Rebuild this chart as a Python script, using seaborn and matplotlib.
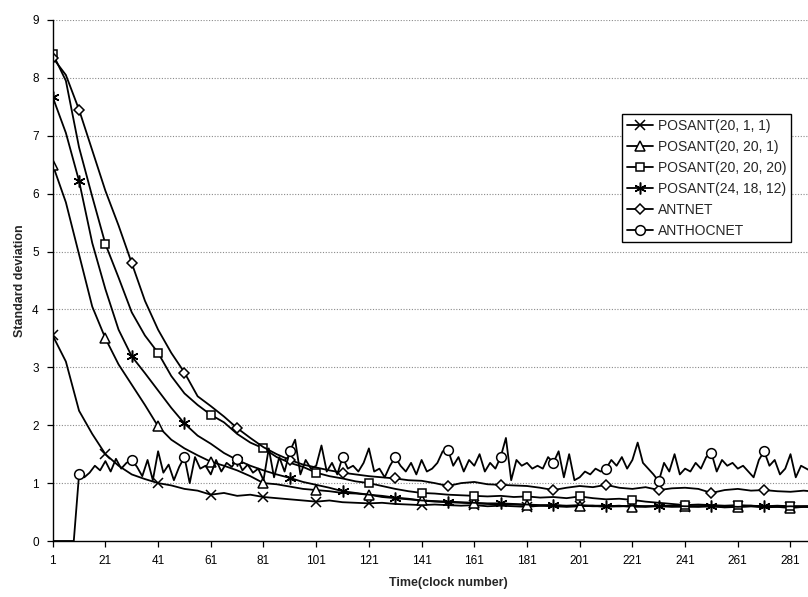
import numpy as np
import pandas as pd
import matplotlib
matplotlib.use("Agg")
import matplotlib.pyplot as plt
from matplotlib.lines import Line2D
import seaborn as sns

# ---------------- data ----------------
# smooth series sampled every 5 clocks starting at clock 1
step_smooth = 5
posant_20_1_1 = [3.55, 3.10, 2.25, 1.85, 1.50, 1.30, 1.15, 1.07, 1.00, 0.96,
                 0.90, 0.87, 0.80, 0.83, 0.78, 0.80, 0.76, 0.74, 0.72, 0.70,
                 0.68, 0.70, 0.67, 0.66, 0.65, 0.66, 0.64, 0.63, 0.62, 0.63,
                 0.62, 0.61, 0.62, 0.60, 0.61, 0.60, 0.59, 0.61, 0.60, 0.59,
                 0.60, 0.61, 0.59, 0.60, 0.60, 0.59, 0.61, 0.60, 0.59, 0.60,
                 0.60, 0.59, 0.60, 0.61, 0.59, 0.60, 0.59, 0.60, 0.60, 0.59]
posant_20_20_1 = [6.50, 5.85, 4.95, 4.05, 3.50, 3.05, 2.70, 2.35, 1.98, 1.75,
                  1.60, 1.48, 1.37, 1.30, 1.22, 1.12, 1.00, 0.98, 0.94, 0.90,
                  0.88, 0.86, 0.83, 0.82, 0.80, 0.76, 0.74, 0.72, 0.70, 0.68,
                  0.67, 0.66, 0.65, 0.64, 0.63, 0.63, 0.62, 0.61, 0.62, 0.60,
                  0.61, 0.60, 0.60, 0.61, 0.59, 0.60, 0.60, 0.59, 0.60, 0.59,
                  0.60, 0.58, 0.59, 0.60, 0.58, 0.59, 0.57, 0.59, 0.58, 0.58]
posant_20_20_20 = [8.42, 7.95, 6.80, 5.95, 5.13, 4.55, 3.95, 3.55, 3.25, 2.85,
                   2.55, 2.35, 2.18, 2.05, 1.85, 1.70, 1.60, 1.45, 1.35, 1.28,
                   1.18, 1.12, 1.08, 1.03, 1.00, 0.95, 0.90, 0.86, 0.83, 0.82,
                   0.80, 0.79, 0.78, 0.77, 0.78, 0.76, 0.77, 0.75, 0.76, 0.74,
                   0.77, 0.74, 0.72, 0.73, 0.71, 0.68, 0.66, 0.64, 0.62, 0.63,
                   0.62, 0.61, 0.62, 0.61, 0.60, 0.61, 0.60, 0.60, 0.60, 0.59]
posant_24_18_12 = [7.67, 7.05, 6.22, 5.15, 4.35, 3.65, 3.19, 2.90, 2.60, 2.30,
                   2.03, 1.82, 1.68, 1.52, 1.40, 1.30, 1.22, 1.15, 1.09, 1.02,
                   0.97, 0.92, 0.86, 0.83, 0.80, 0.78, 0.75, 0.73, 0.70, 0.69,
                   0.68, 0.67, 0.66, 0.65, 0.65, 0.64, 0.63, 0.62, 0.62, 0.61,
                   0.62, 0.61, 0.61, 0.60, 0.61, 0.60, 0.60, 0.61, 0.60, 0.60,
                   0.61, 0.60, 0.59, 0.60, 0.60, 0.59, 0.60, 0.59, 0.60, 0.60]
antnet = [8.35, 8.05, 7.45, 6.75, 6.05, 5.45, 4.80, 4.15, 3.65, 3.25,
          2.91, 2.50, 2.33, 2.15, 1.95, 1.78, 1.62, 1.50, 1.40, 1.32,
          1.27, 1.22, 1.18, 1.15, 1.12, 1.10, 1.08, 1.05, 1.04, 1.00,
          0.95, 1.00, 1.02, 0.98, 0.97, 0.96, 0.95, 0.92, 0.88, 0.92,
          0.95, 0.93, 0.97, 0.92, 0.90, 0.93, 0.88, 0.91, 0.92, 0.90,
          0.83, 0.88, 0.90, 0.87, 0.88, 0.86, 0.85, 0.87, 0.85, 0.86]
# noisy series sampled every 2 clocks starting at clock 1
step_noisy = 2
anthocnet = [0.00, 0.00, 0.00, 0.00, 0.00,
             1.15, 1.10, 1.18, 1.30, 1.22, 1.38, 1.20, 1.42, 1.25, 1.35,
             1.40, 1.28, 1.12, 1.40, 1.05, 1.55, 1.18, 1.32, 1.05, 1.28,
             1.45, 1.00, 1.45, 1.25, 1.30, 1.15, 1.40, 1.20, 1.35, 1.28,
             1.42, 1.22, 1.32, 1.18, 1.25,
             1.05, 1.60, 1.10, 1.45, 1.20, 1.55, 1.75, 1.15, 1.40, 1.25,
             1.30, 1.65, 1.20, 1.35, 1.15, 1.45, 1.25, 1.30, 1.20, 1.35,
             1.60, 1.20, 1.25, 1.10, 1.30, 1.45, 1.30, 1.20, 1.35, 1.15,
             1.40, 1.20, 1.25, 1.35, 1.55, 1.58, 1.30, 1.45, 1.20, 1.40,
             1.30, 1.50, 1.20, 1.35, 1.25, 1.45, 1.78, 1.05, 1.40, 1.30,
             1.35, 1.25, 1.30, 1.25, 1.45, 1.35, 1.55, 1.10, 1.50, 1.05,
             1.10, 1.20, 1.15, 1.25, 1.20, 1.25, 1.40, 1.30, 1.45, 1.25,
             1.40, 1.70, 1.35, 1.25, 1.15, 1.03, 1.35, 1.20, 1.50, 1.15,
             1.25, 1.20, 1.35, 1.25, 1.45, 1.52, 1.20, 1.40, 1.30, 1.35,
             1.25, 1.30, 1.20, 1.10, 1.40, 1.55, 1.30, 1.40, 1.15, 1.25,
             1.50, 1.10, 1.30, 1.25, 1.20, 1.35, 1.25, 1.30, 1.20, 1.25]

series_names = ["POSANT(20, 1, 1)", "POSANT(20, 20, 1)", "POSANT(20, 20, 20)",
                "POSANT(24, 18, 12)", "ANTNET", "ANTHOCNET"]
x_ticks = [1, 21, 41, 61, 81, 101, 121, 141, 161, 181, 201, 221, 241, 261, 281]
y_ticks = [0, 1, 2, 3, 4, 5, 6, 7, 8, 9]

# ---------------- build long table ----------------
def frame(name, vals, step):
    t = 1 + step * np.arange(len(vals))
    return pd.DataFrame({"time": t, "sd": vals, "series": name})

data = {
    series_names[0]: frame(series_names[0], posant_20_1_1, step_smooth),
    series_names[1]: frame(series_names[1], posant_20_20_1, step_smooth),
    series_names[2]: frame(series_names[2], posant_20_20_20, step_smooth),
    series_names[3]: frame(series_names[3], posant_24_18_12, step_smooth),
    series_names[4]: frame(series_names[4], antnet, step_smooth),
    series_names[5]: frame(series_names[5], anthocnet, step_noisy),
}

n_s = len(posant_20_1_1)
every20 = 4                                   # one marker every 20 clocks (from clock 1)
odd20 = [0] + list(range(2, n_s, 4))          # clock 1, 11, 31, 51, ...
styles = {
    series_names[0]: dict(marker="x", ms=7, markevery=every20),
    series_names[1]: dict(marker="^", ms=6.5, markevery=every20),
    series_names[2]: dict(marker="s", ms=6, markevery=every20),
    series_names[3]: dict(marker=(6, 2, 0), ms=8.5, markevery=odd20),
    series_names[4]: dict(marker="D", ms=5, markevery=odd20),
    series_names[5]: dict(marker="o", ms=7, markevery=(5, 10)),
}

# ---------------- plotting ----------------
sns.set_style("white")
plt.rcParams["font.family"] = ["Liberation Sans", "DejaVu Sans"]

W, H = 808, 597
fig = plt.figure(figsize=(W / 100, H / 100), dpi=100)
x_left, x_right = 1, 301
px_left, px_unit = 52.7, 2.635
ax_w_px = (x_right - x_left) * px_unit
ax = fig.add_axes([px_left / W, (H - 541) / H, ax_w_px / W, (541 - 20) / H])

for name in series_names:
    st = styles[name]
    sns.lineplot(data=data[name], x="time", y="sd", ax=ax, color="black",
                 linewidth=1.3, marker=st["marker"], markersize=st["ms"],
                 markevery=st["markevery"], markeredgecolor="black",
                 markerfacecolor="white", markeredgewidth=1.1,
                 estimator=None, sort=False, legend=False, clip_on=True)

ax.set_xlim(x_left, x_right)
ax.set_ylim(0, 9)
ax.set_xticks(x_ticks)
ax.set_yticks(y_ticks)
ax.tick_params(axis="both", which="major", labelsize=8.5, length=4, width=0.9,
               direction="out", color="black", pad=6, bottom=True, left=True)
for lab in ax.get_xticklabels() + ax.get_yticklabels():
    lab.set_color("black")

for s in ["top", "right"]:
    ax.spines[s].set_visible(False)
for s in ["left", "bottom"]:
    ax.spines[s].set_color("black")
    ax.spines[s].set_linewidth(1.0)

ax.grid(False)
for yv in y_ticks[1:]:
    ax.axhline(yv, color="#8a8a8a", linewidth=0.8, linestyle=(0, (1, 1.5)), zorder=0)

ax.set_xlabel("Time(clock number)", fontsize=9, fontweight="bold", labelpad=7)
ax.set_ylabel("Standard deviation", fontsize=9, fontweight="bold", labelpad=4.5)

handles = []
for name in series_names:
    st = styles[name]
    handles.append(Line2D([], [], color="black", linewidth=1.3, marker=st["marker"],
                          markersize=st["ms"], markeredgecolor="black",
                          markerfacecolor="white", markeredgewidth=1.1))
leg = fig.legend(handles, series_names, loc="upper right",
                 bbox_to_anchor=(791 / W, 1 - 114 / H), bbox_transform=fig.transFigure,
                 fontsize=10, frameon=True, fancybox=False, framealpha=1,
                 edgecolor="black", borderpad=0.35, labelspacing=0.5,
                 handlelength=1.9, handletextpad=0.3, borderaxespad=0)
leg.get_frame().set_linewidth(1.0)

fig.savefig("out.png", dpi=100)
